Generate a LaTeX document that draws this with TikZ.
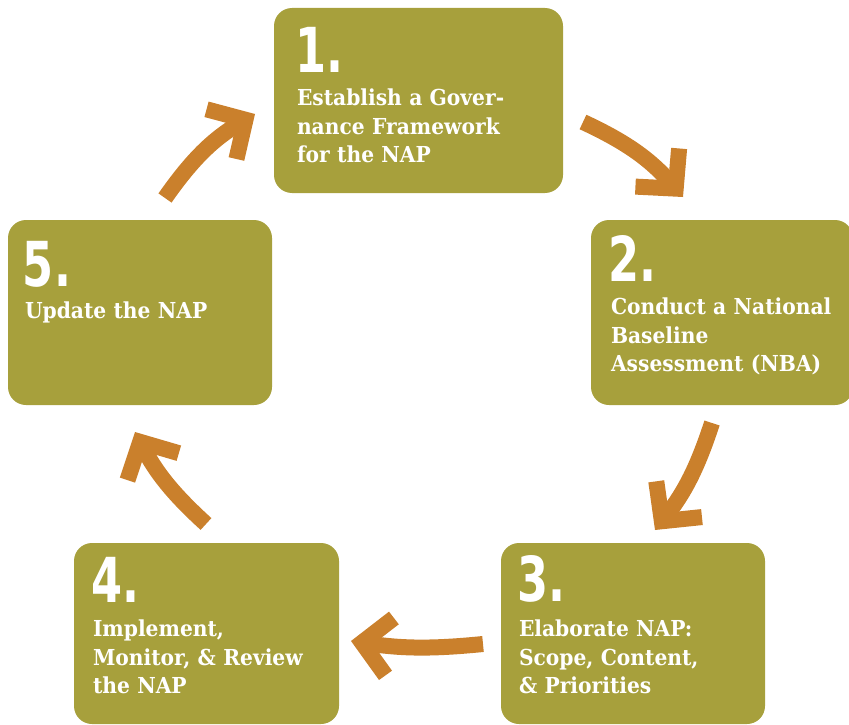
\documentclass[tikz,border=0pt]{standalone}
\usepackage{fontspec}
\usepackage{tikz}
\usetikzlibrary{arrows.meta, positioning}
\setmainfont[FakeStretch=0.92]{DejaVu Serif}
\newfontfamily\numfont[FakeStretch=0.72]{DejaVu Sans}
\definecolor{olive}{HTML}{A7A03C}
\definecolor{rust}{HTML}{CA802C}
\tikzstyle{phase} = [rectangle, rounded corners=18pt, fill=olive,
inner sep=0pt]
\tikzstyle{number} = [anchor=base west, inner sep=0pt, text=white,
font=\numfont\bfseries\fontsize{62}{62}\selectfont]
\tikzstyle{phasetext} = [anchor=base west, inner sep=0pt, text=white,
align=left, text width=240pt, font=\bfseries\fontsize{22}{28.5}\selectfont]
\tikzstyle{arrow} = [line width=16pt, draw=rust,
-{Straight Barb[length=28pt, width=58pt, sharp]}]

\begin{document}
\begin{tikzpicture}[x=1pt, y=1pt]
\useasboundingbox (0,0) rectangle (849,-725);
\clip (0,0) rectangle (849,-725);

\node(phaseA)[phase, minimum width=289pt, minimum height=185pt] at (418.5,-100.5) {};
\node(phaseB)[phase, minimum width=262pt, minimum height=185pt] at (722,-312.5) {};
\node(phaseC)[phase, minimum width=264pt, minimum height=181pt] at (633,-633.5) {};
\node(phaseD)[phase, minimum width=265pt, minimum height=181pt] at (206.5,-633.5) {};
\node(phaseE)[phase, minimum width=264pt, minimum height=185pt] at (140,-312.5) {};

\node(numA)[number] at ([xshift=21pt, yshift=-65pt]phaseA.north west) {1.};
\node(textA)[phasetext] at ([xshift=23pt, yshift=-98pt]phaseA.north west)
{Establish a Gover-\\nance Framework\\for the NAP};

\node(numB)[number] at ([xshift=17pt, yshift=-62pt]phaseB.north west) {2.};
\node(textB)[phasetext] at ([xshift=20pt, yshift=-95pt]phaseB.north west)
{Conduct a National\\Baseline\\Assessment (NBA)};

\node(numC)[number] at ([xshift=16pt, yshift=-59pt]phaseC.north west) {3.};
\node(textC)[phasetext] at ([xshift=18pt, yshift=-94pt]phaseC.north west)
{Elaborate NAP:\\Scope, Content,\\\& Priorities};

\node(numD)[number] at ([xshift=17pt, yshift=-60pt]phaseD.north west) {4.};
\node(textD)[phasetext] at ([xshift=19pt, yshift=-94pt]phaseD.north west)
{Implement,\\Monitor, \& Review\\the NAP};

\node(numE)[number] at ([xshift=15pt, yshift=-67pt]phaseE.north west) {5.};
\node(textE)[phasetext] at ([xshift=17pt, yshift=-99pt]phaseE.north west)
{Update the NAP};

\coordinate(fromA) at (583,-122);
\coordinate(toB) at (683,-197);
\coordinate(fromB) at (712,-423);
\coordinate(toC) at (655,-530);
\coordinate(fromC) at (483,-644);
\coordinate(toD) at (351,-641);
\coordinate(fromD) at (206,-524);
\coordinate(toE) at (135,-432);
\coordinate(fromE) at (165,-198);
\coordinate(toA) at (255,-114);

\draw[arrow](fromA) to[bend left=12] (toB);
\draw[arrow](fromB) to[bend left=10] (toC);
\draw[arrow](fromC) to[bend left=7] (toD);
\draw[arrow](fromD) to[bend left=10] (toE);
\draw[arrow](fromE) to[bend left=12] (toA);

\end{tikzpicture}
\end{document}
